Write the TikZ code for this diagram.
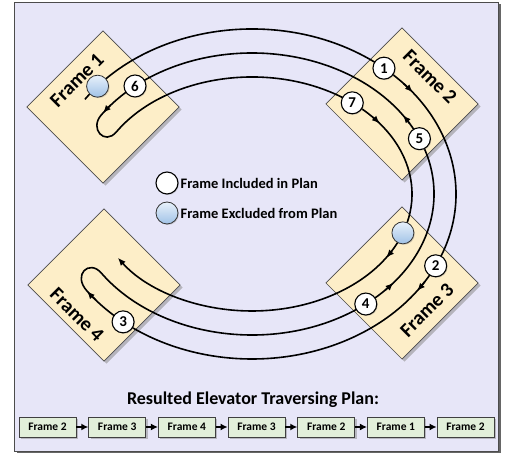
\documentclass[tikz,border=0pt]{standalone}
\usepackage{fontspec}
\setmainfont{Carlito}
\usetikzlibrary{arrows.meta,calc,shadows}

\definecolor{panel}{RGB}{231,230,248}
\definecolor{tile}{RGB}{253,238,200}
\definecolor{stepfill}{RGB}{226,239,218}
\definecolor{skipA}{RGB}{232,241,251}
\definecolor{skipB}{RGB}{160,194,230}

\tikzset{
  route/.style={line width=1.6pt, black},
  tip/.style={-{Latex[length=8pt,width=6.5pt]}, line width=1.6pt, black},
  tilebox/.style={rectangle, draw=black!70, line width=0.7pt, fill=tile,
    minimum size=107.5pt, inner sep=0pt, rotate=45},
  tileshadow/.style={rectangle, fill=black!45, opacity=0.55,
    minimum size=107.5pt, inner sep=0pt, rotate=45},
  tilelabel/.style={font=\bfseries\fontsize{20}{20}\selectfont, inner sep=0pt},
  stop/.style={circle, draw=black, line width=1.1pt, fill=white,
    minimum size=22pt, inner sep=0pt, font=\bfseries\fontsize{15}{15}\selectfont,
    drop shadow={shadow xshift=1pt, shadow yshift=-1pt, opacity=0.3}},
  skip/.style={circle, draw=black!80, line width=0.8pt, top color=skipA,
    bottom color=skipB, minimum size=22pt, inner sep=0pt,
    drop shadow={shadow xshift=1pt, shadow yshift=-1pt, opacity=0.3}},
  legendtext/.style={anchor=west, inner sep=0pt,
    font=\bfseries\fontsize{14.5}{15}\selectfont},
  planbox/.style={rectangle, draw=black!75, line width=0.8pt, fill=stepfill,
    minimum width=57pt, minimum height=20pt, inner sep=0pt,
    font=\bfseries\fontsize{11.5}{12}\selectfont,
    drop shadow={shadow xshift=2pt, shadow yshift=-2pt, opacity=0.45}},
  planarrow/.style={-{Latex[length=7pt,width=7pt]}, line width=1.4pt, black},
}

\begin{document}
\begin{tikzpicture}[x=1pt,y=1pt]
\useasboundingbox (0,0) rectangle (505,454);

% background panel with its shadow
\fill[black!60] (16.5,0.5) rectangle (500.5,450);
\draw[black!70, fill=panel, line width=0.8pt] (14,3) rectangle (498,452);

% the four frames
\foreach \n/\x/\y in {1/103/347, 2/402/350, 3/402/171, 4/104/169} {
  \node[tileshadow] at (\x+2.5,\y-2.5) {};
  \node[tilebox] (f\n) at (\x,\y) {};
}
\node[tilelabel, rotate=45]  (lf1) at (77,374) {Frame 1};
\node[tilelabel, rotate=-45] (lf2) at (430,377) {Frame 2};
\node[tilelabel, rotate=45]  (lf3) at (427,144) {Frame 3};
\node[tilelabel, rotate=-45] (lf4) at (77,139) {Frame 4};

% centre of the three rings
\coordinate (C) at (252,260);
\coordinate (tail) at ($(C)+(145:204pt and 165pt)$);
\coordinate (m0) at ($(C)+(-146:182pt and 141pt)$);
\coordinate (i0) at ($(C)+(148:160pt and 117pt)$);

% the traversal: outer ring, turn in frame 4, middle ring, turn in frame 1, inner ring
\draw[route, -{Latex[length=8pt,width=6.5pt]}] (tail)
  arc[start angle=145, end angle=-144, x radius=204pt, y radius=165pt]
  .. controls +(-14.7,16.4) and +(-11.8,13.6) .. (m0)
  arc[start angle=-146, end angle=146, x radius=182pt, y radius=141pt]
  .. controls +(-11.8,-13.6) and +(-11.7,-13.7) .. (i0)
  arc[start angle=148, end angle=-147, x radius=160pt, y radius=117pt];

% direction marks along the rings
\draw[tip] ($(C)+(42:204pt and 165pt)$)   arc[start angle=42,   end angle=38,   x radius=204pt, y radius=165pt];
\draw[tip] ($(C)+(-32:204pt and 165pt)$)  arc[start angle=-32,  end angle=-36,  x radius=204pt, y radius=165pt];
\draw[tip] ($(C)+(-140:204pt and 165pt)$) arc[start angle=-140, end angle=-144, x radius=204pt, y radius=165pt];
\draw[tip] ($(C)+(-43:182pt and 141pt)$)  arc[start angle=-43,  end angle=-39,  x radius=182pt, y radius=141pt];
\draw[tip] ($(C)+(30:182pt and 141pt)$)   arc[start angle=30,   end angle=34,   x radius=182pt, y radius=141pt];
\draw[tip] ($(C)+(141:182pt and 141pt)$)  arc[start angle=141,  end angle=145,  x radius=182pt, y radius=141pt];
\draw[tip] ($(C)+(41:160pt and 117pt)$)   arc[start angle=41,   end angle=37,   x radius=160pt, y radius=117pt];
\draw[tip] ($(C)+(-29:160pt and 117pt)$)  arc[start angle=-29,  end angle=-33,  x radius=160pt, y radius=117pt];

% stops on the rings
\node[skip] (x1) at ($(C)+(139.2:204pt and 165pt)$) {};
\node[stop] (s1) at ($(C)+(49.7:204pt and 165pt)$) {1};
\node[stop] (s2) at ($(C)+(-25.8:204pt and 165pt)$) {2};
\node[stop] (s3) at ($(C)+(-129.2:204pt and 165pt)$) {3};
\node[stop] (s4) at ($(C)+(-51.3:182pt and 141pt)$) {4};
\node[stop] (s5) at ($(C)+(23.1:182pt and 141pt)$) {5};
\node[stop] (s6) at ($(C)+(130:182pt and 141pt)$) {6};
\node[stop] (s7) at ($(C)+(51.2:160pt and 117pt)$) {7};
\node[skip] (x3) at ($(C)+(-19.4:160pt and 117pt)$) {};

% legend
\node[stop] (k1) at (167,271) {};
\node[legendtext] (t1) at (180.5,271) {Frame Included in Plan};
\node[skip] (k2) at (167,241) {};
\node[legendtext] (t2) at (180.5,241) {Frame Excluded from Plan};

% resulting plan
\node[font=\bfseries\fontsize{18}{18}\selectfont] (title) at (253,54) {Resulted Elevator Traversing Plan:};
\foreach \i/\t in {0/Frame 2, 1/Frame 3, 2/Frame 4, 3/Frame 3, 4/Frame 2, 5/Frame 1, 6/Frame 2}
  \node[planbox] (p\i) at ({47.5+69.67*\i},27) {\t};
\foreach \i [evaluate=\i as \j using int(\i+1)] in {0,...,5}
  \draw[planarrow] (p\i.east) -- (p\j.west);
\end{tikzpicture}
\end{document}
